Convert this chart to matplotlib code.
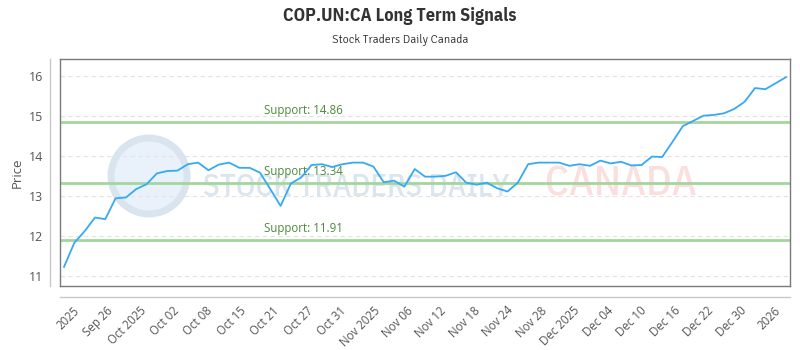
import numpy as np
import matplotlib
matplotlib.use("Agg")
import matplotlib.pyplot as plt
from matplotlib.lines import Line2D
from matplotlib.patches import Circle

# ---- data ----
prices = [11.24, 11.84, 12.13, 12.47, 12.43, 12.95, 12.97, 13.18, 13.30, 13.57,
          13.63, 13.64, 13.80, 13.84, 13.65, 13.79, 13.84, 13.71, 13.71, 13.59,
          13.18, 12.76, 13.32, 13.47, 13.78, 13.80, 13.73, 13.80, 13.84, 13.84,
          13.74, 13.35, 13.39, 13.24, 13.68, 13.49, 13.49, 13.51, 13.60, 13.34,
          13.29, 13.34, 13.20, 13.12, 13.34, 13.80, 13.84, 13.84, 13.84, 13.76,
          13.80, 13.76, 13.89, 13.82, 13.86, 13.77, 13.78, 13.99, 13.98, 14.36,
          14.75, 14.88, 15.01, 15.03, 15.07, 15.18, 15.36, 15.70, 15.67, 15.82,
          15.97]
support_levels = [14.86, 13.34, 11.91]
support_labels = ["Support: 14.86", "Support: 13.34", "Support: 11.91"]
tick_labels = ["2025", "Sep 26", "Oct 2025", "Oct 02", "Oct 08", "Oct 15", "Oct 21",
               "Oct 27", "Oct 31", "Nov 2025", "Nov 06", "Nov 12", "Nov 18", "Nov 24",
               "Nov 28", "Dec 2025", "Dec 04", "Dec 10", "Dec 16", "Dec 22", "Dec 30",
               "2026"]
y_ticks = [11, 12, 13, 14, 15, 16]

title = "COP.UN:CA Long Term Signals"
subtitle = "Stock Traders Daily Canada"

TITLE_F = ["IBM Plex Sans Condensed", "DejaVu Sans"]
SUB_F = ["Signika", "IBM Plex Sans Condensed", "DejaVu Sans"]
WM = ["IBM Plex Sans Condensed", "DejaVu Sans"]
BODY = ["Open Sans", "DejaVu Sans"]

fig = plt.figure(figsize=(8, 3.5), dpi=100)
ax = fig.add_axes([0.075, 0.18286, 0.9125, 0.64857])

x = np.arange(len(prices))
ax.set_xlim(-0.39, len(prices) - 1 + 0.39)
ax.set_ylim(10.763, 16.424)

# grid
for yv in y_ticks:
    ax.axhline(yv, color="#e3e3e3", lw=0.8, ls=(0, (4, 3)), zorder=0)

# watermark
wm_ax = fig.add_axes([0, 0, 1, 1], zorder=-1)
wm_ax.set_xlim(0, 800)
wm_ax.set_ylim(350, 0)
wm_ax.axis("off")
wm_ax.add_patch(Circle((149, 176), 38, facecolor="#e9f2fa", edgecolor="#d8e5ef", lw=5))
wm1 = wm_ax.text(203, 196, "STOCK TRADERS DAILY", color="#dbe5ee", fontsize=29,
                 family=WM, fontweight="medium", ha="left", va="baseline")
wm2 = wm_ax.text(545, 196, "CANADA", color="#fbdede", fontsize=29,
                 family=WM, fontweight="medium", ha="left", va="baseline")
ax.patch.set_alpha(0)

# support lines
for lvl, lab in zip(support_levels, support_labels):
    ax.axhline(lvl, color="#a3d69d", lw=2, zorder=2)
    ax.text(19.4, lvl + 0.12, lab, color="#4c8a3c", fontsize=8.3, family=BODY,
            ha="left", va="bottom", zorder=3)

# price line
ax.plot(x, prices, color="#36a9f5", lw=1.3, zorder=4)

# axes styling
for sp in ax.spines.values():
    sp.set_color("#7a7a7a")
    sp.set_linewidth(1)
ax.set_yticks(y_ticks)
ax.set_yticklabels([str(v) for v in y_ticks], family=BODY, fontsize=9, color="#555555")
ax.tick_params(axis="y", length=0, pad=12)

tick_pos = np.linspace(1.72, 69.7, len(tick_labels))
ax.set_xticks(tick_pos)
ax.set_xticklabels(tick_labels, rotation=45, ha="right", va="top", family=BODY,
                   fontsize=8.3, color="#555555")
ax.tick_params(axis="x", length=0, pad=13)

ax.set_ylabel("Price", family=BODY, fontsize=9.5, color="#555555", labelpad=4)

# outer axis lines
fig.add_artist(Line2D([50 / 800, 50 / 800], [1 - 59 / 350, 1 - 286 / 350],
                      color="#c8c8c8", lw=1))
fig.add_artist(Line2D([60 / 800, 790 / 800], [1 - 296.5 / 350, 1 - 296.5 / 350],
                      color="#c8c8c8", lw=1))

t1 = fig.text(0.5, 1 - 16 / 350, title, ha="center", va="center", family=TITLE_F,
              fontsize=14, fontweight="bold", color="#333333")
t2 = fig.text(0.5, 1 - 40 / 350, subtitle, ha="center", va="center", family=SUB_F,
              fontsize=9, color="#333333")

# fit text widths to the reference layout
fig.canvas.draw()
r = fig.canvas.get_renderer()
for t, target in ((wm1, 307), (wm2, 152), (t1, 235), (t2, 136)):
    w = t.get_window_extent(r).width
    t.set_fontsize(t.get_fontsize() * target / w)

fig.savefig("out.png", dpi=100)
